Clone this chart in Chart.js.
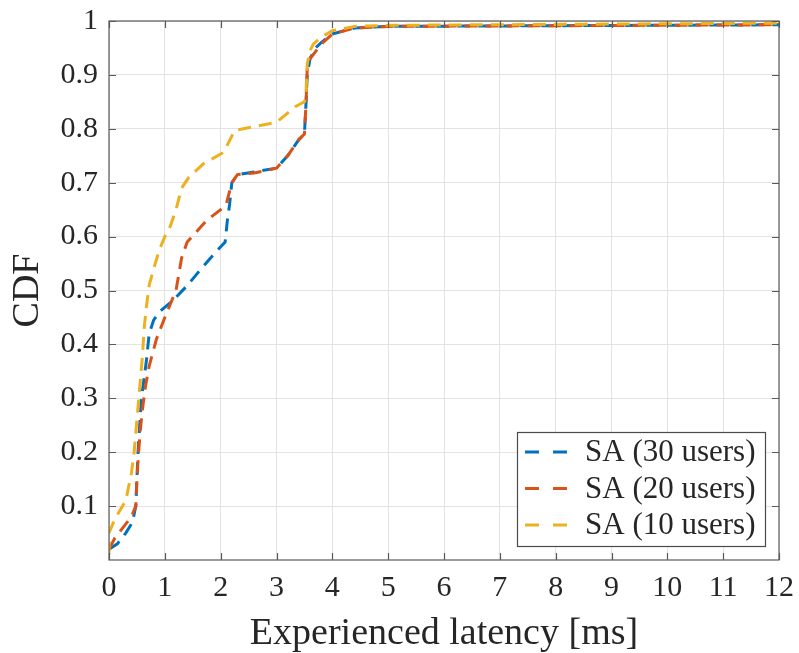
<!DOCTYPE html>
<html>
<head>
<meta charset="utf-8">
<script src="https://cdn.jsdelivr.net/npm/chart.js@4/dist/chart.umd.min.js"></script>
<style>
html,body{margin:0;padding:0;background:#fff;}
#wrap{width:799px;height:653px;position:relative;}
</style>
</head>
<body>
<div id="wrap"><canvas id="c" width="799" height="653"></canvas></div>
<script>
// ---- data ----
const seriesLabels = ['SA (30 users)', 'SA (20 users)', 'SA (10 users)'];
const seriesColors = ['#0072BD', '#D95319', '#EDB120'];

const users30X = [0, 0.15, 0.3, 0.42, 0.48, 0.5, 0.52, 0.55, 0.58, 0.62, 0.67, 0.72, 0.8, 0.9, 1.16, 1.4, 1.64, 1.9, 2.08, 2.12, 2.16, 2.2, 2.3, 2.6, 3.0, 3.2, 3.4, 3.5, 3.53, 3.55, 3.6, 3.7, 3.8, 4.0, 4.4, 5, 12];
const users30Y = [0.02, 0.03, 0.05, 0.07, 0.1, 0.15, 0.2, 0.25, 0.3, 0.33, 0.37, 0.42, 0.445, 0.46, 0.483, 0.509, 0.539, 0.57, 0.59, 0.63, 0.66, 0.7, 0.715, 0.72, 0.727, 0.75, 0.78, 0.79, 0.85, 0.9, 0.93, 0.95, 0.96, 0.976, 0.987, 0.99, 0.993];

const users20X = [0, 0.1, 0.25, 0.4, 0.48, 0.5, 0.53, 0.56, 0.6, 0.65, 0.72, 0.85, 1.0, 1.12, 1.2, 1.3, 1.4, 1.55, 1.75, 2.0, 2.1, 2.2, 2.3, 2.6, 3.0, 3.2, 3.4, 3.5, 3.53, 3.55, 3.6, 3.8, 4.0, 4.4, 5, 12];
const users20Y = [0.02, 0.04, 0.06, 0.08, 0.1, 0.15, 0.2, 0.24, 0.28, 0.32, 0.36, 0.41, 0.45, 0.48, 0.5, 0.56, 0.59, 0.607, 0.63, 0.65, 0.66, 0.7, 0.715, 0.718, 0.727, 0.75, 0.78, 0.79, 0.85, 0.91, 0.93, 0.957, 0.976, 0.987, 0.99, 0.993];

const users10X = [0, 0, 0.1, 0.3, 0.4, 0.45, 0.5, 0.55, 0.6, 0.63, 0.67, 0.72, 0.8, 0.9, 1.0, 1.1, 1.2, 1.3, 1.43, 1.7, 2.05, 2.12, 2.25, 2.6, 3.0, 3.15, 3.35, 3.5, 3.53, 3.55, 3.6, 3.66, 3.8, 4.0, 4.4, 5, 12];
const users10Y = [0.01, 0.05, 0.075, 0.11, 0.16, 0.2, 0.26, 0.32, 0.38, 0.43, 0.47, 0.51, 0.54, 0.575, 0.6, 0.62, 0.65, 0.69, 0.71, 0.736, 0.756, 0.77, 0.797, 0.804, 0.812, 0.825, 0.842, 0.85, 0.87, 0.92, 0.945, 0.957, 0.97, 0.982, 0.99, 0.992, 0.996];

const xTicks = [0,1,2,3,4,5,6,7,8,9,10,11,12];
const yTicks = [0.1,0.2,0.3,0.4,0.5,0.6,0.7,0.8,0.9,1];
const xTitle = 'Experienced latency [ms]';
const yTitle = 'CDF';

// ---- build ----
const toPts = (xs, ys) => xs.map((x, i) => ({x: x, y: ys[i]}));
const allX = [users30X, users20X, users10X];
const allY = [users30Y, users20Y, users10Y];

const FONT = "'Liberation Serif', 'DejaVu Serif', serif";
const TXT = '#262626';
const AXC = '#5a5a5a';

const datasets = seriesLabels.map((lab, i) => ({
  label: lab,
  data: toPts(allX[i], allY[i]),
  borderColor: seriesColors[i],
  backgroundColor: seriesColors[i],
  borderWidth: 3,
  borderDash: [13, 8],
  pointRadius: 0,
  tension: 0,
  fill: false,
  order: 3 - i
}));

const boxPlugin = {
  id: 'boxTicks',
  afterDatasetsDraw(chart) {
    const ctx = chart.ctx;
    const a = chart.chartArea;
    const xs = chart.scales.x, ys = chart.scales.y;
    ctx.save();
    ctx.strokeStyle = AXC;
    ctx.lineWidth = 1.2;
    ctx.strokeRect(a.left, a.top, a.right - a.left, a.bottom - a.top);
    const L = 7;
    ctx.beginPath();
    xTicks.forEach(t => {
      const px = Math.round(xs.getPixelForValue(t)) + 0.5;
      ctx.moveTo(px, a.bottom); ctx.lineTo(px, a.bottom - L);
      ctx.moveTo(px, a.top); ctx.lineTo(px, a.top + L);
    });
    yTicks.forEach(t => {
      const py = Math.round(ys.getPixelForValue(t)) + 0.5;
      ctx.moveTo(a.left, py); ctx.lineTo(a.left + L, py);
      ctx.moveTo(a.right, py); ctx.lineTo(a.right - L, py);
    });
    ctx.stroke();
    ctx.restore();
  },
  afterDraw(chart) {
    // legend box inside plot, lower right
    const ctx = chart.ctx;
    const a = chart.chartArea;
    const bw = 248, bh = 114;
    const bx = a.right - 14 - bw, by = a.bottom - 14 - bh;
    ctx.save();
    ctx.fillStyle = '#ffffff';
    ctx.fillRect(bx, by, bw, bh);
    ctx.strokeStyle = '#4a4a4a';
    ctx.lineWidth = 1.2;
    ctx.strokeRect(bx + 0.5, by + 0.5, bw, bh);
    ctx.font = "31px " + FONT;
    ctx.textBaseline = 'middle';
    chart.data.datasets.forEach((ds, i) => {
      const cy = by + 20 + i * 36.5;
      ctx.strokeStyle = ds.borderColor;
      ctx.lineWidth = 3;
      ctx.setLineDash([14, 14]);
      ctx.beginPath();
      ctx.moveTo(bx + 8, cy); ctx.lineTo(bx + 51, cy);
      ctx.stroke();
      ctx.setLineDash([]);
      ctx.fillStyle = TXT;
      ctx.fillText(ds.label, bx + 68, cy + 1);
    });
    ctx.restore();
  }
};

new Chart(document.getElementById('c'), {
  type: 'line',
  data: { datasets: datasets },
  options: {
    responsive: false,
    animation: false,
    devicePixelRatio: 1,
    layout: { padding: { left: 0, right: 20, top: 21, bottom: 0 } },
    plugins: { legend: { display: false }, tooltip: { enabled: false } },
    scales: {
      x: {
        type: 'linear',
        min: 0, max: 12,
        afterBuildTicks: s => { s.ticks = xTicks.map(v => ({value: v})); },
        afterFit: s => { s.height = 93; s.paddingLeft = 0; s.paddingRight = 0; },
        grid: { color: '#e3e3e3', lineWidth: 1, drawTicks: false },
        border: { display: false },
        ticks: { color: TXT, font: { family: FONT, size: 30 }, padding: 10, maxRotation: 0 },
        title: { display: true, text: xTitle, color: TXT, font: { family: FONT, size: 38 }, padding: { top: 4, bottom: -4 } }
      },
      y: {
        type: 'linear',
        min: 0, max: 1,
        afterBuildTicks: s => { s.ticks = yTicks.map(v => ({value: v})); },
        afterFit: s => { s.width = 109; s.paddingTop = 0; s.paddingBottom = 0; },
        grid: { color: '#e3e3e3', lineWidth: 1, drawTicks: false },
        border: { display: false },
        ticks: { color: TXT, font: { family: FONT, size: 30 }, padding: 11, callback: v => String(v) },
        title: { display: true, text: yTitle, color: TXT, font: { family: FONT, size: 38 }, padding: { top: 5, bottom: 0 } }
      }
    }
  },
  plugins: [boxPlugin]
});
</script>
</body>
</html>
